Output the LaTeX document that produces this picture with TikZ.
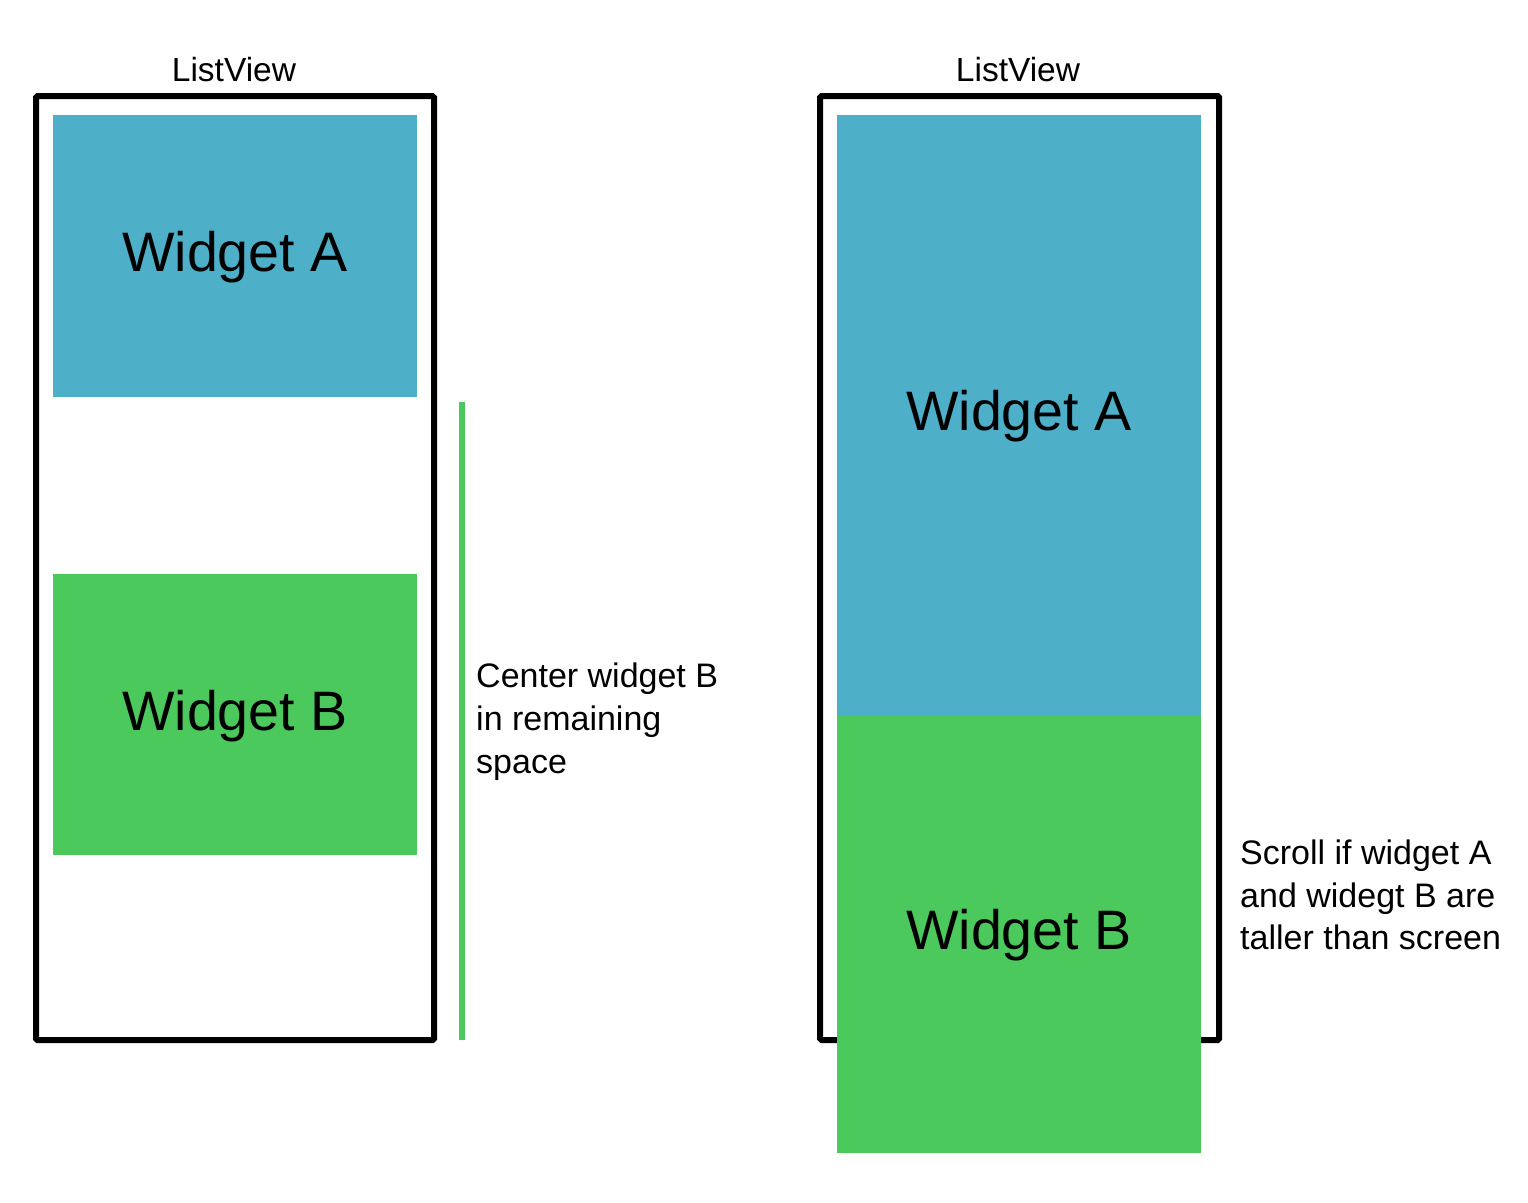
\documentclass[tikz,border=0pt]{standalone}
\usepackage{fontspec}
\setmainfont{Liberation Sans}
\definecolor{wblue}{HTML}{4DB0C8}
\definecolor{wgreen}{HTML}{4CC95D}
\begin{document}
\begin{tikzpicture}[x=1pt,y=-1pt,
  frame/.style={draw=black,line width=6pt,rounded corners=1.5pt,inner sep=0pt,outer sep=0pt},
  wbox/.style={inner sep=0pt,outer sep=0pt,draw=none},
  big/.style={font=\fontsize{55.6}{60}\selectfont,anchor=base,inner sep=0pt},
  small/.style={font=\fontsize{34}{43}\selectfont,anchor=base west,inner sep=0pt},
  title/.style={font=\fontsize{33.5}{40}\selectfont,anchor=base,inner sep=0pt}]
\useasboundingbox (0,0) rectangle (1528,1202);
% frames
\node[frame,minimum width=398pt,minimum height=944pt] (frameL) at (235,568) {};
\node[frame,minimum width=399pt,minimum height=944pt] (frameR) at (1019.5,568) {};
% left widgets
\node[wbox,fill=wblue,minimum width=364pt,minimum height=282pt] (LA) at (235,256) {};
\node[wbox,fill=wgreen,minimum width=364pt,minimum height=281pt] (LB) at (235,714.5) {};
% right widgets
\node[wbox,fill=wblue,minimum width=364pt,minimum height=600pt] (RA) at (1019,415) {};
\node[wbox,fill=wgreen,minimum width=364pt,minimum height=438pt] (RB) at (1019,934) {};
% labels
\node[big] (tLA) at (235,271) {Widget A};
\node[big] (tLB) at (235,730) {Widget B};
\node[big] (tRA) at (1019,430) {Widget A};
\node[big] (tRB) at (1019,949) {Widget B};
\node[title] (lvL) at (234,81) {ListView};
\node[title] (lvR) at (1018,81) {ListView};
% green span line
\coordinate (gtop) at (462,402);
\coordinate (gbot) at (462,1040);
\draw[wgreen,line width=6pt] (gtop) -- (gbot);
% notes
\node[small] (c1) at (476,687) {Center widget B};
\node[small] (c2) at (476,730) {in remaining};
\node[small] (c3) at (476,773) {space};
\node[small] (s1) at (1240,864) {Scroll if widget A};
\node[small] (s2) at (1240,907) {and widegt B are};
\node[small] (s3) at (1240,949) {taller than screen};
\end{tikzpicture}
\end{document}
